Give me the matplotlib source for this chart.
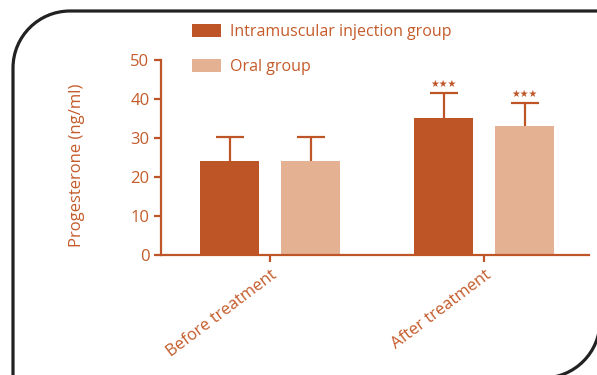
import numpy as np
import matplotlib
matplotlib.use('Agg')
import matplotlib.pyplot as plt
from matplotlib.path import Path
from matplotlib.patches import PathPatch

# data
groups = ['Before treatment', 'After treatment']
series = ['Intramuscular injection group', 'Oral group']
means = [[24.1, 35.0],      # intramuscular
         [24.2, 33.2]]      # oral
sd = [[6.2, 6.5],
      [6.1, 5.7]]
stars = [['', '***'],
         ['', '***']]

DARK = '#BD5527'
LIGHT = '#E4B293'
TXT = '#C45B2A'

plt.rcParams['font.family'] = ['Open Sans', 'DejaVu Sans']

fig = plt.figure(figsize=(5.97, 3.75), dpi=100)
ax = fig.add_axes([0.270, 0.32, 0.717, 0.52])

x = np.arange(len(groups))
width = 0.276
offset = 0.189
colors = [DARK, LIGHT]

handles = []
for i in range(len(series)):
    xs = x + (i * 2 - 1) * offset
    b = ax.bar(xs, means[i], width, color=colors[i], label=series[i], zorder=2)
    handles.append(b)
    eb = ax.errorbar(xs, means[i], yerr=[np.zeros(len(groups)), sd[i]], fmt='none',
                     ecolor=DARK, elinewidth=1.6, capsize=10, capthick=1.6, zorder=1)
    eb[1][0].set_visible(False)   # no cap at the bar top
    for xx, m, s, st in zip(xs, means[i], sd[i], stars[i]):
        if st:
            ax.text(xx, m + s + 1.0, '\u2605' * len(st), ha='center', va='bottom',
                    fontsize=7, color=DARK, family='DejaVu Sans')

ax.set_xlim(-0.51, 1.49)
ax.set_ylim(0, 50)
ax.set_yticks([0, 10, 20, 30, 40, 50])
ax.set_xticks(x)
ax.set_xticklabels(groups, rotation=37, ha='right', rotation_mode='anchor')

for s in ['top', 'right']:
    ax.spines[s].set_visible(False)
for s in ['left', 'bottom']:
    ax.spines[s].set_color(DARK)
    ax.spines[s].set_linewidth(1.6)
ax.tick_params(axis='both', colors=DARK, width=1.6, length=5, labelsize=12,
               labelcolor=TXT)
ax.tick_params(axis='x', pad=4)
ax.set_ylabel('Progesterone (ng/ml)', color=TXT, fontsize=12)
ax.yaxis.set_label_coords(-0.178, 0.46)

fig.legend(handles=handles, labels=series, loc='upper left',
           bbox_to_anchor=(0.322, 0.935), frameon=False, fontsize=11.5,
           labelcolor=TXT, handlelength=1.8, handleheight=0.85,
           handletextpad=0.55, labelspacing=1.15, borderaxespad=0, borderpad=0)

# rounded frame around the panel
r = 57
L, T = 13, 11
R, B = 600, 378
W, H = 597, 375
def px(xp, yp):
    return (xp / W, 1 - yp / H)
k = 0.5523
verts = [px(L, H + 5), px(L, T + r),
         px(L, T + r - k * r), px(L + r - k * r, T), px(L + r, T),
         px(W + 5, T)]
codes = [Path.MOVETO, Path.LINETO, Path.CURVE4, Path.CURVE4, Path.CURVE4, Path.LINETO]
fig.patches.append(PathPatch(Path(verts, codes), transform=fig.transFigure,
                             fill=False, lw=2.3, edgecolor='#222222', clip_on=False))
verts2 = [px(R, T + 100), px(R, B - r),
          px(R, B - r + k * r), px(R - r + k * r, B), px(R - r, B),
          px(L + 50, B)]
fig.patches.append(PathPatch(Path(verts2, codes), transform=fig.transFigure,
                             fill=False, lw=2.3, edgecolor='#222222', clip_on=False))

fig.savefig('out.png', dpi=100)
